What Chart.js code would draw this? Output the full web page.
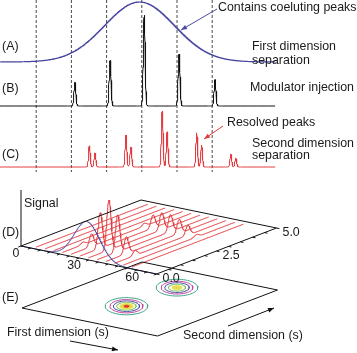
<!DOCTYPE html>
<html>
<head>
<meta charset="utf-8">
<script src="https://cdn.jsdelivr.net/npm/chart.js@4.4.0/dist/chart.umd.min.js"></script>
<style>
html, body { margin: 0; padding: 0; background: #fff; }
#wrap { width: 357px; height: 353px; }
</style>
</head>
<body>
<div id="wrap"><canvas id="myChart" width="357" height="353"></canvas></div>
<script>
// values

// (A)-(C): modulation boundaries, first dimension time (s)
var modTimes = [5, 10, 15, 20, 25, 30];
// (A) first dimension peak: centre (s), height, width (s)
var firstDimPeak = [19.7, 1.0, 5.0];
// (B) modulator injection pulses
var pulseTimes = [10.5, 15.5, 20.35, 25.3, 30.4];
var pulseHeights = [0.26, 0.50, 1.00, 0.57, 0.29];
// (C) resolved peaks
var resolvedTimes = [12.55, 13.35, 17.75, 18.45, 22.9, 23.6, 27.8, 28.5, 32.65, 33.35];
var resolvedHeights = [0.38, 0.25, 0.57, 0.36, 1.00, 0.63, 0.61, 0.39, 0.23, 0.16];

// (D) second dimension traces, one per modulation (first dimension time, s)
var traceTimes = [6, 10.5, 15, 19.5, 24, 28.5, 33, 37.5, 42, 46.5, 51, 55.5];
var traceRet = [1.0, 3.2];        // second dimension retention of the two compounds (s)
var traceH1 = [0, 0, 0, 0.05, 0.25, 0.71, 1.00, 0.74, 0.34, 0.10, 0, 0];
var traceH2 = [0, 0, 0, 0, 0.06, 0.26, 0.34, 0.34, 0.28, 0.20, 0.05, 0];
var profile3d = [34, 0.76, 6.5];  // first dimension trace in (D): centre, height, width
var firstDimTicks = [0, 30, 60];
var secondDimTicks = [0.0, 2.5, 5.0];

// (E) contour spots
var spotFirst = [33.5, 34.2];
var spotSecond = [1.65, 3.7];
var spotHeight = [1.0, 0.9];
var contourLevels = [0.1, 0.25, 0.42, 0.62, 0.8, 0.97];
var contourColors = ['#3aa88a', '#c2409c', '#4b4ba8', '#6cbf4a', '#e6dc50', '#e03a2a'];

// layout of the panels (canvas units)
var tx = function (t) { return 1 + 7.04 * t; };
var panelBase = [62, 106, 167], panelScale = [60, 91, 56];
var T1MAX = 70, T2MAX = 5;
var U = [135.5, 28], V = [120, -46], ZS = 50;
var D0 = [21, 246], E0 = [22, 308];

function gauss(t, c, h, w) { return h * Math.exp(-(t - c) * (t - c) / (2 * w * w)); }

function proj(o, t1, t2, z) {
  return {
    x: o[0] + U[0] * t1 / T1MAX + V[0] * t2 / T2MAX,
    y: o[1] + U[1] * t1 / T1MAX + V[1] * t2 / T2MAX - ZS * (z || 0)
  };
}

function trace(fn, base, scale) {
  var pts = [];
  for (var t = -0.14; t <= 39; t += 0.02) {
    pts.push({ x: tx(t), y: base - scale * fn(t) });
  }
  return pts;
}

var datasets = [];
function addLine(pts, color, width, extra) {
  var ds = { data: pts, showLine: true, borderColor: color, borderWidth: width,
             pointRadius: 0, fill: false, tension: 0, clip: false };
  for (var k in (extra || {})) ds[k] = extra[k];
  datasets.push(ds);
}

// dashed modulation lines
modTimes.forEach(function (t) {
  addLine([{ x: tx(t), y: 0 }, { x: tx(t), y: 172 }], '#333', 0.9, { borderDash: [3, 2], order: 5 });
});

// (A)
addLine(trace(function (t) { return gauss(t, firstDimPeak[0], firstDimPeak[1], firstDimPeak[2]); },
  panelBase[0], panelScale[0]), '#45459f', 1.2, { order: 1 });
// (B)
addLine(trace(function (t) {
  var s = 0;
  pulseTimes.forEach(function (c, i) { s += gauss(t, c, pulseHeights[i], 0.13); });
  return s;
}, panelBase[1], panelScale[1]), '#111', 1, { order: 1 });
// (C)
addLine(trace(function (t) {
  var s = 0;
  resolvedTimes.forEach(function (c, i) { s += gauss(t, c, resolvedHeights[i], 0.12); });
  return s;
}, panelBase[2], panelScale[2]), '#e23a3e', 1, { order: 1 });

// (D) traces
traceTimes.forEach(function (t1, i) {
  var pts = [];
  for (var t2 = 0.15; t2 <= 4.8; t2 += 0.02) {
    var z = gauss(t2, traceRet[0], traceH1[i], 0.09) + gauss(t2, traceRet[1], traceH2[i], 0.09);
    pts.push(proj(D0, t1, t2, z));
  }
  addLine(pts, '#e23a3e', 1, { order: 2 });
});
(function () {
  var pts = [];
  for (var t1 = 0; t1 <= T1MAX; t1 += 0.25) {
    pts.push(proj(D0, t1, 0, gauss(t1, profile3d[0], profile3d[1], profile3d[2])));
  }
  addLine(pts, '#4848a8', 1, { order: 1 });
})();

// (E) contours
spotFirst.forEach(function (t1, s) {
  var c = proj(E0, t1, spotSecond[s], 0);
  contourLevels.forEach(function (lev, j) {
    if (lev >= spotHeight[s]) return;
    var k = Math.sqrt(2 * Math.log(spotHeight[s] / lev));
    var rx = 9.9 * k, ry = 4.0 * k, pts = [];
    for (var a = 0; a <= 360; a += 6) {
      var r = a * Math.PI / 180;
      pts.push({ x: c.x + rx * Math.cos(r), y: c.y + ry * Math.sin(r) });
    }
    var filled = j >= 4;
    addLine(pts, contourColors[j], 1, {
      fill: filled ? 'shape' : false,
      backgroundColor: contourColors[j],
      order: 10 - j
    });
  });
});

var notes = {
  id: 'notes',
  afterDatasetsDraw: function (chart) {
    var c = chart.ctx, sx = chart.scales.x, sy = chart.scales.y;
    var X = function (v) { return sx.getPixelForValue(v); };
    var Y = function (v) { return sy.getPixelForValue(v); };
    c.save();

    function seg(a, b, color) {
      c.strokeStyle = color || '#111'; c.lineWidth = 1;
      c.beginPath(); c.moveTo(X(a.x), Y(a.y)); c.lineTo(X(b.x), Y(b.y)); c.stroke();
    }
    function arrow(x1, y1, x2, y2, color) {
      seg({ x: x1, y: y1 }, { x: x2, y: y2 }, color);
      var a = Math.atan2(y2 - y1, x2 - x1), L = 6, W = 2.4;
      c.fillStyle = color;
      c.beginPath();
      c.moveTo(X(x2), Y(y2));
      c.lineTo(X(x2 - L * Math.cos(a) + W * Math.sin(a)), Y(y2 - L * Math.sin(a) - W * Math.cos(a)));
      c.lineTo(X(x2 - L * Math.cos(a) - W * Math.sin(a)), Y(y2 - L * Math.sin(a) + W * Math.cos(a)));
      c.closePath(); c.fill();
    }
    function text(s, x, y, align, color) {
      c.fillStyle = color || '#1a1a1a';
      c.textAlign = align || 'left';
      c.textBaseline = 'middle';
      c.fillText(s, X(x), Y(y));
    }

    // plane outlines for (D) and (E)
    [D0, E0].forEach(function (o) {
      var p0 = proj(o, 0, 0), p1 = proj(o, 0, T2MAX), p2 = proj(o, T1MAX, T2MAX), p3 = proj(o, T1MAX, 0);
      seg(p0, p1); seg(p1, p2); seg(p2, p3); seg(p3, p0);
    });
    // signal axis
    seg(proj(D0, 0, 0), { x: D0[0], y: 190 });
    // ticks
    var vl = Math.sqrt(V[0] * V[0] + V[1] * V[1]), ul = Math.sqrt(U[0] * U[0] + U[1] * U[1]);
    for (var t = 0; t <= T1MAX; t += 5) {
      var p = proj(D0, t, 0);
      seg(p, { x: p.x - 3 * V[0] / vl, y: p.y - 3 * V[1] / vl });
    }
    for (var t2 = 0; t2 <= T2MAX + 0.01; t2 += 0.5) {
      var q = proj(D0, T1MAX, t2);
      seg(q, { x: q.x + 3 * U[0] / ul, y: q.y + 3 * U[1] / ul });
    }

    c.font = '12.4px "Liberation Sans", Arial, sans-serif';
    firstDimTicks.forEach(function (t) {
      var p = proj(D0, t, 0);
      text(String(t), p.x - 5, p.y + 8, 'center');
    });
    secondDimTicks.forEach(function (t) {
      var p = proj(D0, T1MAX, t);
      text(t.toFixed(1), p.x + 6, p.y + 5, 'left');
    });

    text('(A)', 2, 47); text('(B)', 2, 89); text('(C)', 2, 155);
    text('(D)', 2, 233); text('(E)', 2, 298);
    text('Signal', 24, 204);
    text('Contains coeluting peaks', 218, 8);
    text('First dimension', 252, 47); text('separation', 252, 61);
    text('Modulator injection', 250, 88);
    text('Resolved peaks', 227, 123);
    text('Second dimension', 252, 144); text('separation', 252, 156);
    text('First dimension (s)', 7, 333);
    text('Second dimension (s)', 183, 336);

    arrow(217, 9, 181, 30, '#4a4aa0');
    arrow(223, 126, 204, 139, '#e03a3a');
    arrow(70, 341, 118, 350, '#111');
    arrow(228, 326, 274, 308, '#111');
    c.restore();
  }
};

var ctx = document.getElementById('myChart').getContext('2d');
var chart = new Chart(ctx, {
  type: 'scatter',
  data: { datasets: datasets },
  options: {
    responsive: false,
    animation: false,
    devicePixelRatio: 1,
    layout: { padding: 0 },
    plugins: { legend: { display: false }, tooltip: { enabled: false } },
    scales: {
      x: { type: 'linear', min: 0, max: 357, display: false },
      y: { type: 'linear', min: 0, max: 353, reverse: true, display: false }
    }
  },
  plugins: [notes]
});
</script>
</body>
</html>
